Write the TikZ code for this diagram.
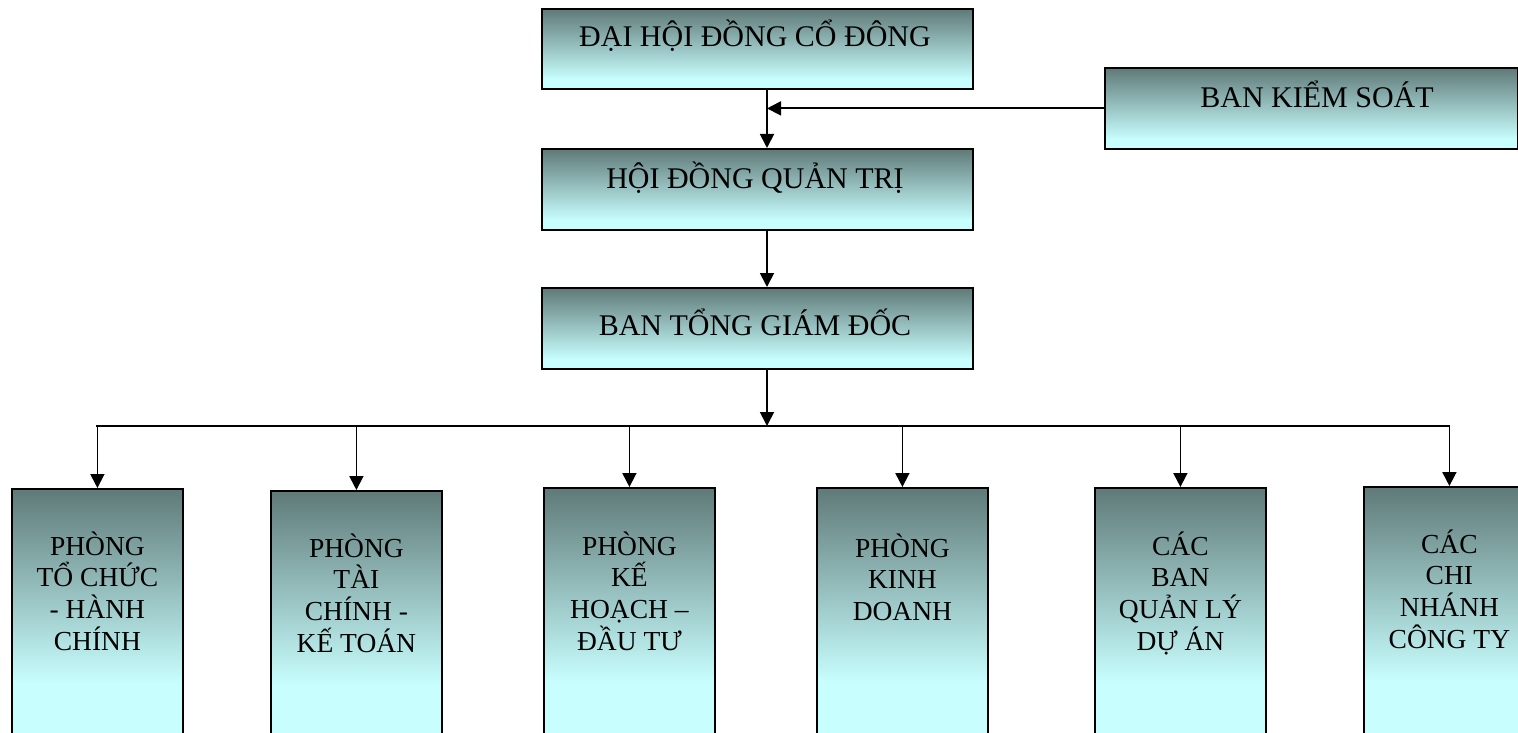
\documentclass[tikz,border=0pt]{standalone}
\usepackage{fontspec}
\setmainfont{Liberation Serif}
\usetikzlibrary{arrows.meta}
\definecolor{boxdark}{RGB}{95,122,120}
\definecolor{boxlight}{RGB}{200,254,254}
\pgfdeclareverticalshading{tealgrad}{100bp}{color(0bp)=(boxlight); color(31bp)=(boxlight); color(75bp)=(boxdark); color(100bp)=(boxdark)}
\pgfdeclareverticalshading{tealgradtall}{100bp}{color(0bp)=(boxlight); color(38bp)=(boxlight); color(75bp)=(boxdark); color(100bp)=(boxdark)}
\newcommand{\rw}[1]{\smash{#1}}
\begin{document}
\begin{tikzpicture}[x=1pt,y=-1pt,
  box/.style={draw=black, line width=1.8pt, shading=tealgrad, inner sep=0pt, anchor=north west},
  wide/.style={box, minimum width=431pt, minimum height=80pt},
  tall/.style={box, shading=tealgradtall, minimum width=171pt, minimum height=262pt},
  lbl/.style={font=\fontsize{30}{34}\selectfont, anchor=base, inner sep=0pt},
  sml/.style={font=\fontsize{27.5}{31.7}\selectfont, anchor=base, inner sep=0pt},
  conn/.style={line width=1.8pt, -{Triangle[width=14pt,length=14pt]}},
  bus/.style={line width=1.8pt}]
\useasboundingbox (0,0) rectangle (1518,733);
\clip (0,0) rectangle (1518,733);
% top boxes
\node[wide] (dh) at (541,8) {};
\node[box, minimum width=413pt, minimum height=81pt] (bks) at (1104,67) {};
\node[wide, minimum height=81pt] (hd) at (541,148) {};
\node[wide, minimum height=81pt] (tgd) at (541,287) {};
\node[lbl] (tdh) at (755,47) {ĐẠI HỘI ĐỒNG CỔ ĐÔNG};
\node[lbl] (tbks) at (1317,108) {BAN KIỂM SOÁT};
\node[lbl] (thd) at (755,189) {HỘI ĐỒNG QUẢN TRỊ};
\node[lbl] (ttgd) at (755,335) {BAN TỔNG GIÁM ĐỐC};
% bottom boxes
\node[tall] (b1) at (11,488) {};
\node[tall] (b2) at (270,490) {};
\node[tall] (b3) at (543,487) {};
\node[tall] (b4) at (816,487) {};
\node[tall] (b5) at (1094,487) {};
\node[tall] (b6) at (1363,486) {};
\node[sml] (l1) at (b1.north |- 0,555) {\begin{tabular}[t]{@{}c@{}}\rw{PHÒNG}\\\rw{TỔ CHỨC}\\\rw{- HÀNH}\\\rw{CHÍNH}\end{tabular}};
\node[sml] (l2) at (b2.north |- 0,557) {\begin{tabular}[t]{@{}c@{}}\rw{PHÒNG}\\\rw{TÀI}\\\rw{CHÍNH -}\\\rw{KẾ TOÁN}\end{tabular}};
\node[sml] (l3) at (b3.north |- 0,555) {\begin{tabular}[t]{@{}c@{}}\rw{PHÒNG}\\\rw{KẾ}\\\rw{HOẠCH –}\\\rw{ĐẦU TƯ}\end{tabular}};
\node[sml] (l4) at (b4.north |- 0,557) {\begin{tabular}[t]{@{}c@{}}\rw{PHÒNG}\\\rw{KINH}\\\rw{DOANH}\end{tabular}};
\node[sml] (l5) at (b5.north |- 0,555) {\begin{tabular}[t]{@{}c@{}}\rw{CÁC}\\\rw{BAN}\\\rw{QUẢN LÝ}\\\rw{DỰ ÁN}\end{tabular}};
\node[sml] (l6) at (b6.north |- 0,553) {\begin{tabular}[t]{@{}c@{}}\rw{CÁC}\\\rw{CHI}\\\rw{NHÁNH}\\\rw{CÔNG TY}\end{tabular}};
% connectors
\coordinate (spine) at (767,0);
\coordinate (busL) at (96,426);
\coordinate (busR) at (1450,426);
\draw[conn] (dh.south -| spine) -- (hd.north -| spine);
\draw[conn] (bks.west) -- (bks.west -| spine);
\draw[conn] (hd.south -| spine) -- (tgd.north -| spine);
\draw[conn] (tgd.south -| spine) -- (busL -| spine);
\draw[bus] (busL) -- (busR);
\foreach \b in {b1,b2,b3,b4,b5,b6}
  \draw[conn] (\b.north |- busL) -- (\b.north);
\end{tikzpicture}
\end{document}
